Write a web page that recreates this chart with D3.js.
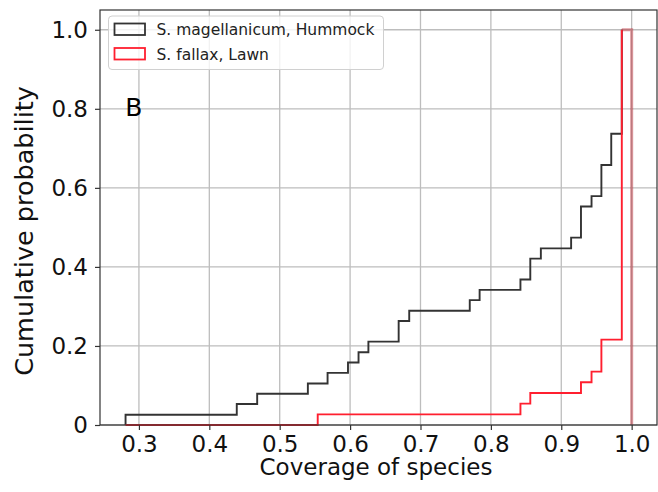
<!DOCTYPE html>
<html>
<head>
<meta charset="utf-8">
<script src="https://cdn.jsdelivr.net/npm/d3@7"></script>
<style>
  html, body { margin: 0; padding: 0; background: #fff; }
  svg { display: block; font-family: "DejaVu Sans", sans-serif; }
</style>
</head>
<body>
<svg id="chart" width="658" height="492"></svg>
<script>
// Cumulative step histograms of species coverage (shared bin edges)
const seriesNames = ["S. magellanicum, Hummock", "S. fallax, Lawn"];
const seriesColors = ["#333333", "#ff1f2f"];

// bin edges where each series steps up, and the cumulative level after each edge
const magCoverage = [0.281, 0.439, 0.468, 0.540, 0.568, 0.597, 0.612, 0.626, 0.669, 0.684,
                     0.770, 0.784, 0.842, 0.856, 0.871, 0.914, 0.928, 0.943, 0.957, 0.971, 0.986, 1.0];
const magCumProb  = [0.026, 0.053, 0.079, 0.105, 0.132, 0.158, 0.184, 0.211, 0.263, 0.289,
                     0.316, 0.342, 0.368, 0.421, 0.447, 0.474, 0.553, 0.579, 0.658, 0.737, 1.0];

const fallaxCoverage = [0.281, 0.554, 0.842, 0.856, 0.928, 0.943, 0.957, 0.986, 1.0];
const fallaxCumProb  = [0, 0.027, 0.054, 0.081, 0.108, 0.135, 0.216, 1.0];

const xTicks = [0.3, 0.4, 0.5, 0.6, 0.7, 0.8, 0.9, 1.0];
const xTickLabels = ["0.3", "0.4", "0.5", "0.6", "0.7", "0.8", "0.9", "1.0"];
const yTicks = [0, 0.2, 0.4, 0.6, 0.8, 1.0];
const yTickLabels = ["0", "0.2", "0.4", "0.6", "0.8", "1.0"];

const xLabel = "Coverage of species";
const yLabel = "Cumulative probability";
const panelLabel = "B";

const svg = d3.select("#chart");
const plotLeft = 100, plotRight = 657, plotTop = 10, plotBottom = 425;

const x = d3.scaleLinear().domain([0.2447, 1.036]).range([plotLeft, plotRight]);
const y = d3.scaleLinear().domain([0, 1.05]).range([plotBottom, plotTop]);

// grid
const grid = svg.append("g");
grid.selectAll("line.gx").data(xTicks).enter().append("line")
  .attr("x1", d => x(d)).attr("x2", d => x(d))
  .attr("y1", plotTop).attr("y2", plotBottom)
  .attr("stroke", "#bdbdbd").attr("stroke-width", 1.3);
grid.selectAll("line.gy").data(yTicks).enter().append("line")
  .attr("x1", plotLeft).attr("x2", plotRight)
  .attr("y1", d => y(d)).attr("y2", d => y(d))
  .attr("stroke", "#bdbdbd").attr("stroke-width", 1.3);

// step path: rise at each edge and run flat to the next edge
function stepPoints(edges, levels, count) {
  const pts = [[edges[0], 0]];
  for (let i = 0; i < count; i++) {
    pts.push([edges[i], levels[i]]);
    pts.push([edges[i + 1], levels[i]]);
  }
  return pts;
}
// final bin and the drop back to zero at the right edge
function tailPoints(edges, levels) {
  const n = levels.length - 1;
  return [[edges[n], levels[n]], [edges[n + 1], levels[n]], [edges[n + 1], 0]];
}
const line = d3.line().x(d => x(d[0])).y(d => y(d[1]));

const series = [
  { edges: magCoverage, levels: magCumProb, color: seriesColors[0], tailOpacity: 0.2 },
  { edges: fallaxCoverage, levels: fallaxCumProb, color: seriesColors[1], tailOpacity: 0.3 }
];

const tails = svg.append("g");
series.forEach(s => {
  tails.append("path")
    .attr("d", line(tailPoints(s.edges, s.levels)))
    .attr("fill", "none").attr("stroke", s.color)
    .attr("stroke-opacity", s.tailOpacity).attr("stroke-width", 3);
});

const steps = svg.append("g");
series.forEach(s => {
  const pts = stepPoints(s.edges, s.levels, s.levels.length - 1);
  pts.push([s.edges[s.edges.length - 2], s.levels[s.levels.length - 1]]);
  steps.append("path")
    .attr("d", line(pts))
    .attr("fill", "none").attr("stroke", s.color)
    .attr("stroke-width", 1.9).attr("stroke-linejoin", "miter");
});

// axes
const xAxis = d3.axisBottom(x).tickValues(xTicks)
  .tickFormat((d, i) => xTickLabels[i]).tickSize(5).tickPadding(5.5);
const yAxis = d3.axisLeft(y).tickValues(yTicks)
  .tickFormat((d, i) => yTickLabels[i]).tickSize(5).tickPadding(7);

const gx = svg.append("g").attr("transform", `translate(0,${plotBottom})`).call(xAxis);
const gy = svg.append("g").attr("transform", `translate(${plotLeft},0)`).call(yAxis);
[gx, gy].forEach(g => {
  g.select(".domain").remove();
  g.selectAll(".tick line").attr("stroke", "#333").attr("stroke-width", 1.2);
  g.selectAll(".tick text").attr("fill", "#111")
    .attr("font-family", "DejaVu Sans").attr("font-size", 23);
});

// frame
svg.append("rect")
  .attr("x", plotLeft).attr("y", plotTop)
  .attr("width", plotRight - plotLeft).attr("height", plotBottom - plotTop)
  .attr("fill", "none").attr("stroke", "#333").attr("stroke-width", 1.2);

// axis labels
svg.append("text")
  .attr("x", 376).attr("y", 475)
  .attr("text-anchor", "middle").attr("font-size", 23).attr("fill", "#111")
  .text(xLabel);
svg.append("text")
  .attr("transform", `translate(33,${231}) rotate(-90)`)
  .attr("text-anchor", "middle").attr("font-size", 25.5).attr("fill", "#111")
  .text(yLabel);

// panel letter
svg.append("text")
  .attr("x", x(0.2805)).attr("y", y(0.783))
  .attr("font-size", 25).attr("fill", "#000")
  .text(panelLabel);

// legend
const legend = svg.append("g");
legend.append("rect")
  .attr("x", 108.5).attr("y", 16).attr("width", 275).attr("height", 53.5)
  .attr("rx", 3.5).attr("fill", "#fff").attr("fill-opacity", 0.8)
  .attr("stroke", "#d0d0d0").attr("stroke-width", 1);
const items = legend.selectAll("g.item").data(seriesNames).enter().append("g")
  .attr("transform", (d, i) => `translate(0,${i * 24.5})`);
items.append("rect")
  .attr("x", 114.5).attr("y", 23.5).attr("width", 30.5).attr("height", 11.5)
  .attr("fill", "none")
  .attr("stroke", (d, i) => seriesColors[i])
  .attr("stroke-width", 1.8);
items.append("text")
  .attr("x", 156.5).attr("y", 35)
  .attr("font-size", 15.5).attr("fill", "#222")
  .text(d => d);
</script>
</body>
</html>
